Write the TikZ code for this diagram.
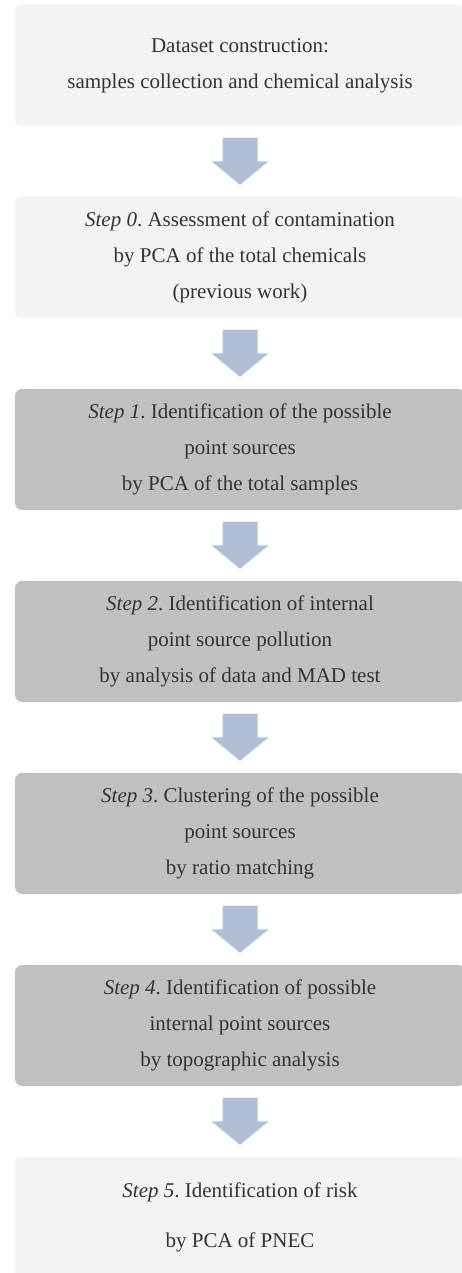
\documentclass[tikz,border=0pt]{standalone}
\usepackage{fontspec}
\setmainfont{Liberation Serif}
\frenchspacing
\usetikzlibrary{calc}
\definecolor{lightbox}{HTML}{F2F3F2}
\definecolor{darkbox}{HTML}{BFC0C3}
\definecolor{arrowc}{HTML}{B0BED8}
\definecolor{txt}{HTML}{333333}
\tikzset{
  stage/.style={rectangle, rounded corners=7pt, minimum width=450pt, minimum height=121pt,
    inner sep=0pt, align=center, text=txt, font=\fontsize{21}{36}\selectfont},
  light/.style={stage, fill=lightbox},
  dark/.style={stage, fill=darkbox},
  flow/.style={fill=arrowc}
}
\newcommand{\flowarrow}[2]{%
  \fill[flow] ($(#1.south)+(-17.5,-11.5)$) -- ($(#1.south)+(17.5,-11.5)$)
    -- ($(#2.north)+(17.5,35.5)$) -- ($(#2.north)+(28.5,35.5)$)
    -- ($(#2.north)+(0,12)$) -- ($(#2.north)+(-28.5,35.5)$)
    -- ($(#2.north)+(-17.5,35.5)$) -- cycle;}
\begin{document}
\begin{tikzpicture}[x=1pt,y=1pt]
\useasboundingbox (0,0) rectangle (462,-1273);
\node[light] (b1) at (240,-65.5) {Dataset construction:\\samples collection and chemical analysis};
\node[light] (b2) at (240,-257.5) {\textit{Step 0}. Assessment of contamination\\by PCA of the total chemicals\\(previous work)};
\node[dark] (b3) at (240,-449.5) {\textit{Step 1}. Identification of the possible\\point sources\\by PCA of the total samples};
\node[dark] (b4) at (240,-641.5) {\textit{Step 2}. Identification of internal\\point source pollution\\by analysis of data and MAD test};
\node[dark] (b5) at (240,-833.5) {\textit{Step 3}. Clustering of the possible\\point sources\\by ratio matching};
\node[dark] (b6) at (240,-1025.5) {\textit{Step 4}. Identification of possible\\internal point sources\\by topographic analysis};
\node[light] (b7) at (240,-1217.5) {\textit{Step 5}. Identification of risk\\[14pt]by PCA of PNEC};
\flowarrow{b1}{b2}
\flowarrow{b2}{b3}
\flowarrow{b3}{b4}
\flowarrow{b4}{b5}
\flowarrow{b5}{b6}
\flowarrow{b6}{b7}
\end{tikzpicture}
\end{document}
